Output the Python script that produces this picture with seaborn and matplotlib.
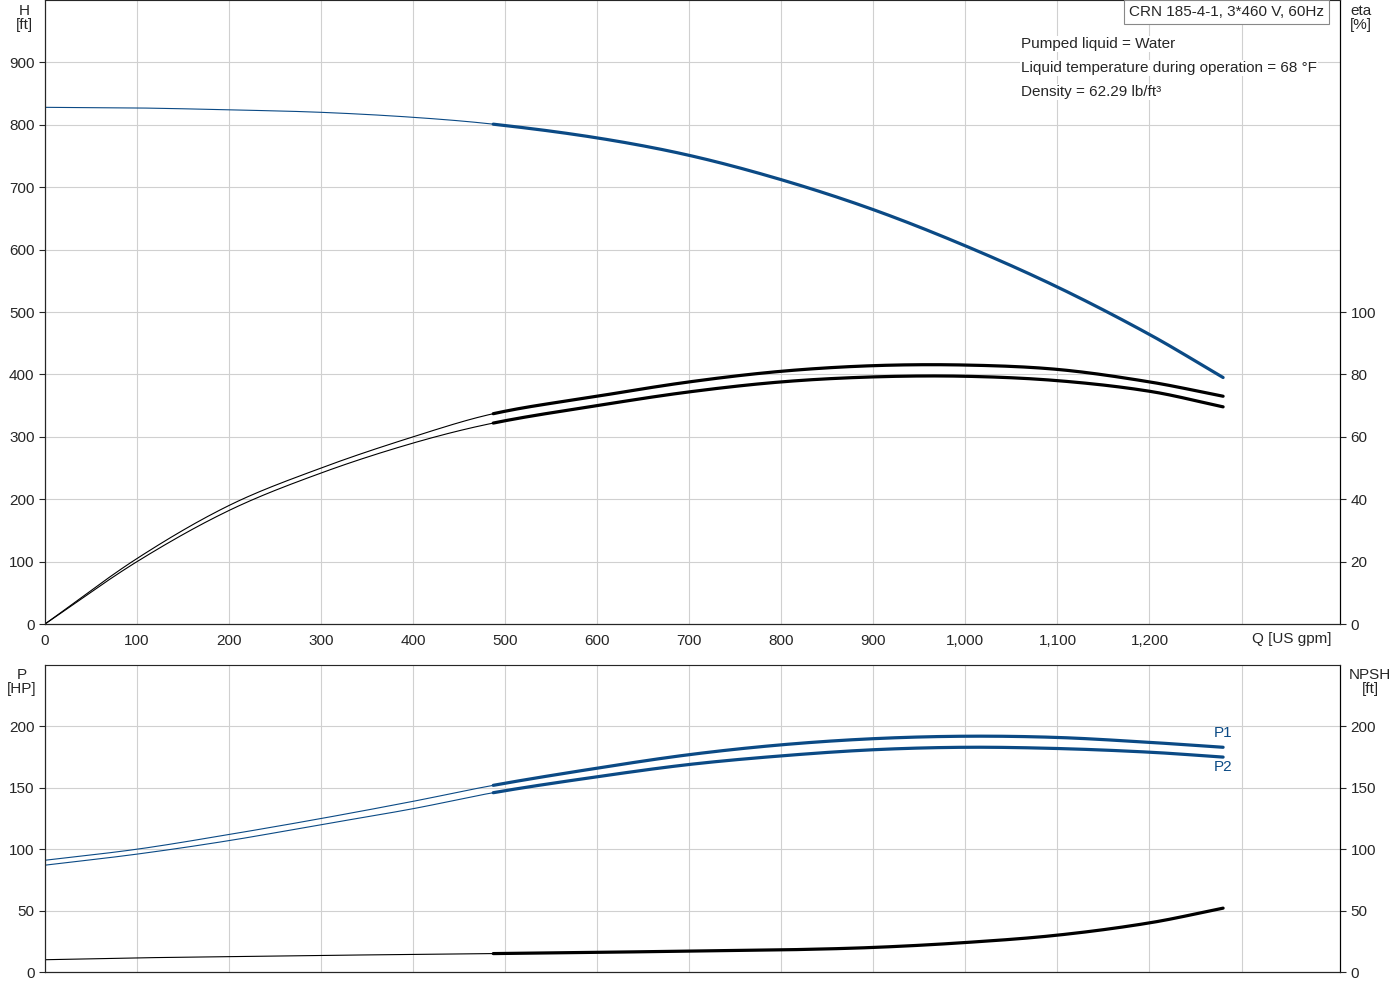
import numpy as np
import pandas as pd
import matplotlib
matplotlib.use("Agg")
import matplotlib.pyplot as plt
import seaborn as sns

sns.set_style("white")
plt.rcParams['font.family'] = ['Arial', 'Liberation Sans', 'DejaVu Sans']

BLUE = "#0b4a85"

# 数据
q = [0, 100, 200, 300, 400, 487, 600, 700, 800, 900, 1000, 1100, 1200, 1280]
head = [828, 827, 824, 820, 812, 801, 779, 751, 712, 664, 606, 540, 464, 395]
eta_upper = [0, 21, 38, 50, 60, 67.4, 73, 77.6, 81, 82.8, 83, 81.6, 77.6, 73]
eta_lower = [0, 20, 36.4, 48.4, 58, 64.4, 70, 74.4, 77.6, 79.2, 79.4, 78, 74.6, 69.6]
p1 = [91, 100, 112, 125, 139, 152, 166, 177, 185, 190, 192, 191, 187, 183]
p2 = [87, 96, 107, 120, 133, 146, 159, 169, 176, 181, 183, 182, 179, 175]
npsh = [10, 11.5, 12.5, 13.5, 14.3, 15, 16, 17, 18, 20, 24, 30, 40, 52]
q_split = 487

df = pd.DataFrame({"Q": q, "H": head, "eta_u": eta_upper, "eta_l": eta_lower,
                   "P1": p1, "P2": p2, "NPSH": npsh})


def smooth(col, n=30):
    # Catmull-Rom 样条穿过读取的点
    x = np.asarray(df["Q"], float)
    y = np.asarray(df[col], float)
    xs, ys = [], []
    for i in range(len(x) - 1):
        i0, i3 = max(i - 1, 0), min(i + 2, len(x) - 1)
        h = x[i + 1] - x[i]
        m1 = (y[i + 1] - y[i0]) / (x[i + 1] - x[i0]) * h
        m2 = (y[i3] - y[i]) / (x[i3] - x[i]) * h
        t = np.linspace(0, 1, n, endpoint=False)
        h00 = 2 * t**3 - 3 * t**2 + 1
        h10 = t**3 - 2 * t**2 + t
        h01 = -2 * t**3 + 3 * t**2
        h11 = t**3 - t**2
        xs.append(x[i] + t * h)
        ys.append(h00 * y[i] + h10 * m1 + h01 * y[i + 1] + h11 * m2)
    xs.append([x[-1]])
    ys.append([y[-1]])
    return pd.DataFrame({"Q": np.concatenate(xs), "v": np.concatenate(ys)})


def draw(ax, col, color, scale=1.0):
    d = smooth(col)
    d["v"] = d["v"] * scale
    thin = d[d["Q"] <= q_split]
    thick = d[d["Q"] >= q_split]
    sns.lineplot(data=thin, x="Q", y="v", ax=ax, color=color, lw=0.8, estimator=None, sort=False)
    sns.lineplot(data=thick, x="Q", y="v", ax=ax, color=color, lw=2.3, estimator=None, sort=False)


fig = plt.figure(figsize=(14, 10), dpi=100)
ax1 = fig.add_axes([45 / 1400, 1 - 624 / 1000, 1295 / 1400, 624 / 1000])
ax2 = fig.add_axes([45 / 1400, 1 - 972 / 1000, 1295 / 1400, 307 / 1000])

draw(ax1, "H", BLUE)
# eta 用 H 坐标绘制: eta 100 -> H 500
draw(ax1, "eta_u", "black", 5)
draw(ax1, "eta_l", "black", 5)
draw(ax2, "P1", BLUE)
draw(ax2, "P2", BLUE)
draw(ax2, "NPSH", "black")

xmax = 1407
for ax in (ax1, ax2):
    ax.set_xlim(0, xmax)
    ax.set_xticks(range(0, 1301, 100))
    ax.grid(True, color="#d0d0d0", lw=0.8)
    ax.set_xlabel("")
    ax.set_ylabel("")
    for s in ax.spines.values():
        s.set_color("#b0b0b0")
    ax.spines["left"].set_color("black")
    ax.spines["right"].set_color("black")
    ax.spines["bottom"].set_color("black")
    ax.tick_params(labelsize=11, length=4)

ax1.set_ylim(0, 1000)
ax1.set_yticks(range(0, 901, 100))
ax1.set_xticklabels([f"{v:,}" for v in range(0, 1301, 100)][:-1] + [""])
ax1r = ax1.twinx()
ax1r.set_ylim(0, 200)
ax1r.set_yticks(range(0, 101, 20))
ax1r.tick_params(labelsize=11, length=4)
ax1r.spines["right"].set_color("black")

ax2.set_ylim(0, 250)
ax2.set_yticks(range(0, 201, 50))
ax2.set_xticklabels([])
ax2r = ax2.twinx()
ax2r.set_ylim(0, 250)
ax2r.set_yticks(range(0, 201, 50))
ax2r.tick_params(labelsize=11, length=4)
ax2r.spines["right"].set_color("black")

fs = 11
fig.text(24 / 1400, 1 - 18 / 1000, "H\n[ft]", ha="center", va="center", fontsize=fs, linespacing=0.95)
fig.text(1361 / 1400, 1 - 18 / 1000, "eta\n[%]", ha="center", va="center", fontsize=fs, linespacing=0.95)
fig.text(22 / 1400, 1 - 682 / 1000, "P\n[HP]", ha="center", va="center", fontsize=fs, linespacing=0.95)
fig.text(1370 / 1400, 1 - 682 / 1000, "NPSH\n[ft]", ha="center", va="center", fontsize=fs, linespacing=0.95)
fig.text(1292 / 1400, 1 - 639 / 1000, "Q [US gpm]", ha="center", va="center", fontsize=fs)

fig.text(1129 / 1400, 1 - 12 / 1000, "CRN 185-4-1, 3*460 V, 60Hz", ha="left", va="center", fontsize=fs,
         bbox=dict(boxstyle="square,pad=0.35", fc="white", ec="#888888", lw=0.8))
for i, t in enumerate(["Pumped liquid = Water",
                       "Liquid temperature during operation = 68 °F",
                       "Density = 62.29 lb/ft³"]):
    fig.text(1021 / 1400, 1 - (44 + 24 * i) / 1000, t, ha="left", va="center", fontsize=fs,
             bbox=dict(fc="white", ec="none", pad=1))

ax2.text(1270, 195, "P1", color=BLUE, fontsize=fs, ha="left", va="center")
ax2.text(1270, 167, "P2", color=BLUE, fontsize=fs, ha="left", va="center")

fig.savefig("out.png", dpi=100)
